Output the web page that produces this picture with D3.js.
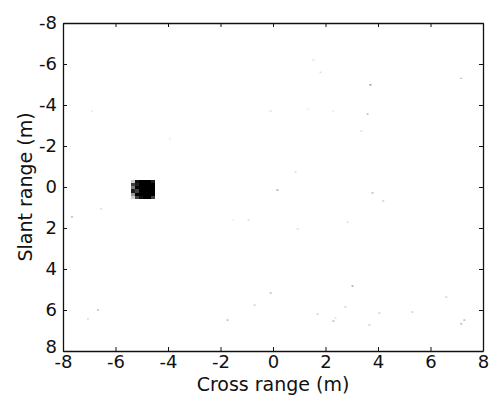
<!DOCTYPE html>
<html>
<head>
<meta charset="utf-8">
<script src="https://cdn.jsdelivr.net/npm/d3@7"></script>
<style>
  body { margin: 0; background: #fff; }
  text { font-family: "DejaVu Sans", Verdana, sans-serif; fill: #111; }
</style>
</head>
<body>
<script>
'use strict';

// axis ticks
const xTicks = [-8, -6, -4, -2, 0, 2, 4, 6, 8];
const yTicks = [-8, -6, -4, -2, 0, 2, 4, 6, 8];

// the bright target: cell edges (m) and intensity (0 = white, 1 = black)
const blobX = [-5.4, -5.25, -5.1, -4.95, -4.8, -4.65];
const blobY = [-0.33, -0.18, -0.03, 0.12, 0.27, 0.42];
const blobI = [
  [0.3, 0.95, 1.0, 1.0, 1.0, 0.9],
  [0.8, 0.9, 1.0, 1.0, 1.0, 1.0],
  [0.6, 1.0, 1.0, 1.0, 1.0, 1.0],
  [0.9, 0.8, 1.0, 1.0, 1.0, 1.0],
  [0.5, 1.0, 1.0, 1.0, 1.0, 1.0],
  [0.3, 0.8, 0.95, 1.0, 1.0, 0.8]
];

// faint clutter points: cross range, slant range, darkness
const clutterX = [1.54, 1.81, 3.71, -0.09, 1.35, 2.30, 3.6, 3.37, 0.86, 0.17, 3.79, 4.2, -1.54, -0.93, 2.84, 0.94, -6.9,
  -1.73, -0.7, -0.09, 1.7, 2.3, 2.38, 2.76, 3.03, 3.67, 4.05, 5.31, 6.6, 7.29, 7.17, -6.55, -7.66, -6.67, -7.05, -3.93, 7.17];
const clutterY = [-6.2, -5.6, -4.98, -3.7, -3.8, -3.7, -3.56, -2.73, -0.73, 0.15, 0.29, 0.68, 1.61, 1.61, 1.71, 2.05, -3.7,
  6.49, 5.76, 5.17, 6.2, 6.54, 6.39, 5.85, 4.83, 6.73, 6.15, 6.1, 5.37, 6.49, 6.68, 1.07, 1.46, 6.0, 6.44, -2.34, -5.3];
const clutterD = [0.3, 0.3, 0.7, 0.3, 0.2, 0.2, 0.5, 0.3, 0.3, 0.6, 0.5, 0.4, 0.2, 0.3, 0.3, 0.3, 0.2,
  0.5, 0.4, 0.5, 0.4, 0.5, 0.3, 0.4, 0.6, 0.4, 0.4, 0.4, 0.4, 0.5, 0.5, 0.3, 0.5, 0.5, 0.3, 0.2, 0.4];

const width = 491, height = 403;
const margin = { left: 63, right: 8, top: 23, bottom: 52 };

const svg = d3.select('body').append('svg')
  .attr('width', width)
  .attr('height', height);

const x = d3.scaleLinear().domain([-8, 8]).range([margin.left, width - margin.right]);
const y = d3.scaleLinear().domain([-8, 8]).range([margin.top, height - margin.bottom]);

// clutter
svg.append('g').selectAll('rect')
  .data(clutterX.map((d, i) => ({ x: d, y: clutterY[i], d: clutterD[i] })))
  .enter().append('rect')
  .attr('x', d => x(d.x) - 1)
  .attr('y', d => y(d.y) - 0.5)
  .attr('width', 2)
  .attr('height', 1)
  .attr('fill', d => d3.interpolateGreys(d.d));

// target blob
const cells = [];
blobI.forEach((row, r) => row.forEach((v, c) => cells.push({ c: c, r: r, v: v })));
const dx = 0.15, dy = 0.15;
svg.append('g')
  .attr('shape-rendering', 'crispEdges')
  .selectAll('rect')
  .data(cells)
  .enter().append('rect')
  .attr('x', d => x(blobX[d.c]))
  .attr('y', d => y(blobY[d.r]))
  .attr('width', x(blobX[0] + dx) - x(blobX[0]) + 0.6)
  .attr('height', y(blobY[0] + dy) - y(blobY[0]) + 0.6)
  .attr('fill', d => d3.interpolateGreys(d.v));

// axes (ticks pointing inward, on all four sides)
const tickLen = 4;
const bottom = svg.append('g')
  .attr('transform', `translate(0,${height - margin.bottom})`)
  .call(d3.axisBottom(x).tickValues(xTicks).tickSizeInner(-tickLen).tickSizeOuter(0).tickPadding(4).tickFormat(d3.format('d')));
const left = svg.append('g')
  .attr('transform', `translate(${margin.left},0)`)
  .call(d3.axisLeft(y).tickValues(yTicks).tickSizeInner(-tickLen).tickSizeOuter(0).tickPadding(6).tickFormat(d3.format('d')));
svg.append('g')
  .attr('transform', `translate(0,${margin.top})`)
  .call(d3.axisTop(x).tickValues(xTicks).tickSizeInner(-tickLen).tickSizeOuter(0).tickFormat(() => ''));
svg.append('g')
  .attr('transform', `translate(${width - margin.right},0)`)
  .call(d3.axisRight(y).tickValues(yTicks).tickSizeInner(-tickLen).tickSizeOuter(0).tickFormat(() => ''));

svg.selectAll('.domain').attr('stroke', '#111').attr('stroke-width', 1.3);
svg.selectAll('.tick line').attr('stroke', '#111');
[bottom, left].forEach(g => g.selectAll('.tick text')
  .style('font-size', '18px')
  .style('font-family', '"DejaVu Sans", Verdana, sans-serif')
  .attr('fill', '#111')
  .text(d => String(d).replace('\u2212', '-')));

// nudge the lowest y label up a little so it clears the first x label
left.selectAll('.tick text').filter(d => d === 8).attr('dy', '0.1em');

// labels
svg.append('text')
  .attr('x', (margin.left + width - margin.right) / 2)
  .attr('y', 391)
  .attr('text-anchor', 'middle')
  .style('font-size', '19px')
  .text('Cross range (m)');

svg.append('text')
  .attr('transform', `translate(32,${(margin.top + height - margin.bottom) / 2})rotate(-90)`)
  .attr('text-anchor', 'middle')
  .style('font-size', '19px')
  .text('Slant range (m)');
</script>
</body>
</html>
